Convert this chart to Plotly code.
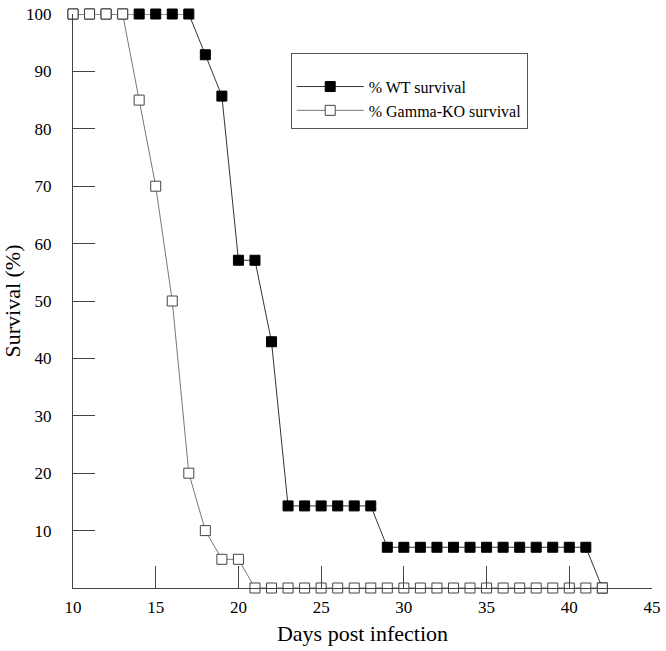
import plotly.graph_objects as go

days = list(range(10, 43))

# % WT survival (n=14)
wt_survival = [100, 100, 100, 100, 100, 100, 100, 100,
               92.9, 85.7, 57.1, 57.1, 42.9,
               14.3, 14.3, 14.3, 14.3, 14.3, 14.3,
               7.1, 7.1, 7.1, 7.1, 7.1, 7.1, 7.1, 7.1, 7.1, 7.1, 7.1, 7.1, 7.1,
               0]

# % Gamma-KO survival (n=20)
ko_survival = [100, 100, 100, 100, 85, 70, 50, 20, 10, 5, 5] + [0] * 22

x_ticks = [10, 15, 20, 25, 30, 35, 40, 45]
y_ticks = [10, 20, 30, 40, 50, 60, 70, 80, 90, 100]

serif = "Liberation Serif, Times New Roman, serif"

fig = go.Figure()
fig.add_trace(go.Scatter(
    x=days, y=wt_survival, name="% WT survival",
    mode="lines+markers",
    line=dict(color="#333333", width=1),
    marker=dict(symbol="square", size=10, color="black", line=dict(color="black", width=1)),
    cliponaxis=False,
))
fig.add_trace(go.Scatter(
    x=days, y=ko_survival, name="% Gamma-KO survival",
    mode="lines+markers",
    line=dict(color="#777777", width=1),
    marker=dict(symbol="square", size=10, color="white", line=dict(color="#444444", width=1)),
    cliponaxis=False,
))

fig.update_layout(
    width=666, height=651,
    margin=dict(l=72, r=9, t=5, b=63),
    paper_bgcolor="white", plot_bgcolor="white",
    font=dict(family=serif, color="black", size=17),
    legend=dict(
        x=0.376, y=0.932, xanchor="left", yanchor="top",
        bgcolor="white", bordercolor="#555555", borderwidth=1,
        font=dict(size=16),
        title=dict(text=" ", font=dict(size=12)),
        itemwidth=67,
    ),
    xaxis=dict(
        range=[10, 45], tickvals=x_ticks, ticks="inside", ticklen=22,
        tickcolor="#444444", showline=True, linecolor="#444444",
        showgrid=False, zeroline=False, ticklabeloverflow="allow",
        ticklabelstandoff=4,
        title=dict(text="Days post infection", font=dict(size=22), standoff=9),
    ),
    yaxis=dict(
        range=[0, 100], tickvals=y_ticks, ticks="inside", ticklen=22,
        tickcolor="#444444", showline=True, linecolor="#444444",
        showgrid=False, zeroline=False, ticklabelstandoff=17,
        ticklabeloverflow="allow",
        title=dict(text="Survival (%)", font=dict(size=22), standoff=6),
    ),
)

# the page body has a default 8px margin; remove it so the figure fills the window
fig.write_html(
    "out.html",
    config={"displayModeBar": False},
    post_script="document.body.style.margin='0';",
)
